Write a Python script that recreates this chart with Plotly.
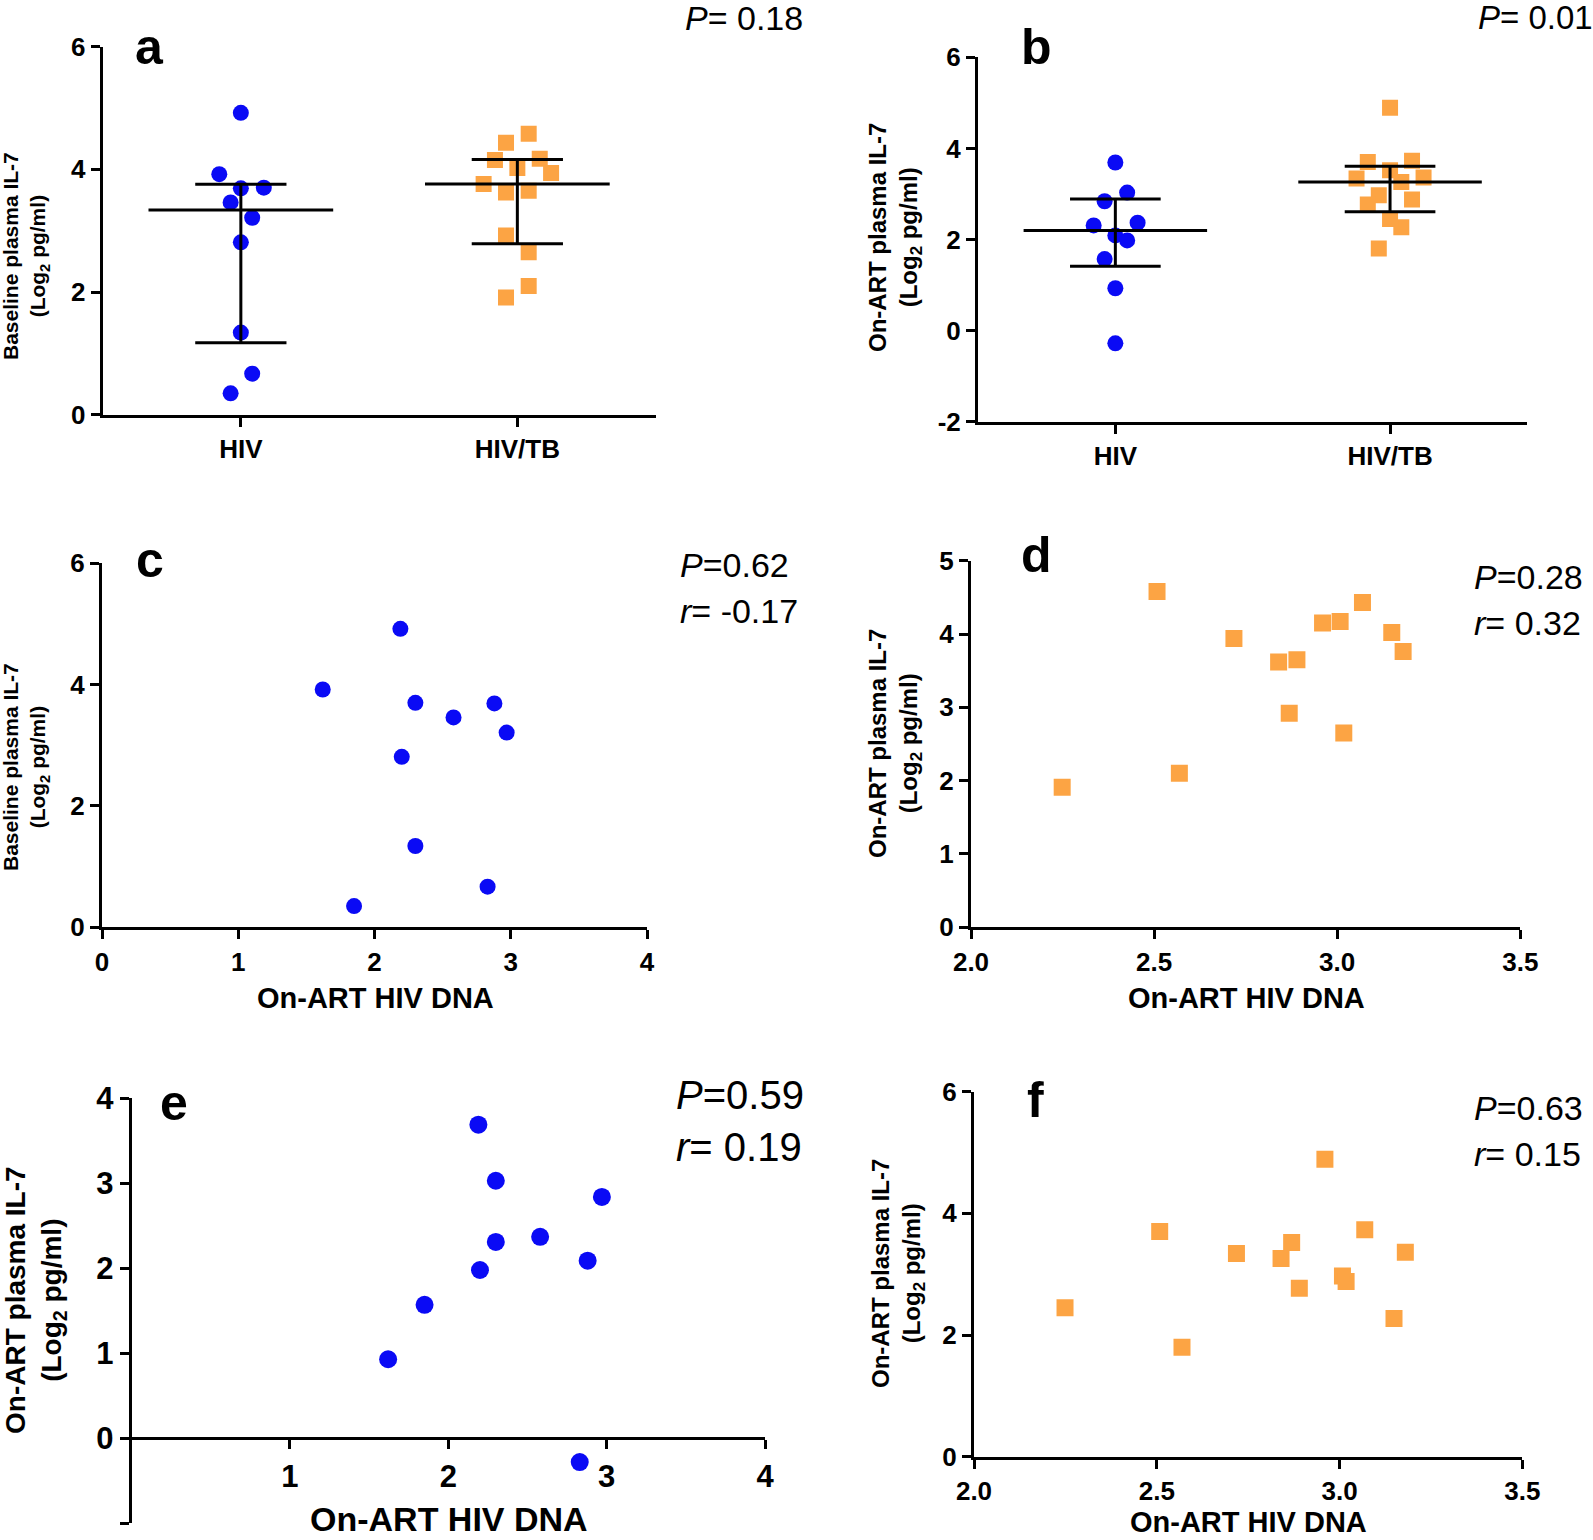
import numpy as np
import plotly.graph_objects as go

W, H = 1593, 1540
FONT = "Liberation Sans, Arial, sans-serif"
BLUE = "#0a0af5"
ORANGE = "#fca444"

# HIV group (one entry per subject)
hiv_dna = [2.19, 1.62, 2.30, 2.88, 2.58, 2.97, 2.20, 2.30, 2.83, 1.85]
hiv_base_il7 = [4.92, 3.92, 3.70, 3.69, 3.46, 3.21, 2.81, 1.34, 0.67, 0.35]
hiv_art_il7 = [3.69, 0.93, 3.03, 2.09, 2.37, 2.84, 1.98, 2.31, -0.28, 1.57]

# HIV/TB group (one entry per subject)
tb_dna = [2.508, 2.718, 2.960, 3.008, 3.069, 3.149, 3.180, 2.840, 2.890, 2.869, 3.018, 2.569, 2.249]
tb_base_il7 = [4.58, 3.94, 4.15, 4.17, 4.43, 4.02, 3.76, 3.62, 3.65, 2.92, 2.65, 2.10, 1.91]
tb_art_il7 = [3.70, 3.34, 4.89, 2.97, 3.73, 2.27, 3.36, 3.26, 2.77, 3.52, 2.88, 1.80, 2.45]

groups = ["HIV", "HIV/TB"]

# horizontal scatter of the dot plots (category units)
hiv_spread_a = [0, -0.078, 0.083, 0, -0.037, 0.041, 0, 0, 0.041, -0.037]
tb_spread_a = [0.041, 0.122, -0.081, 0.081, -0.041, 0, -0.122, -0.041, 0.041, -0.041, 0.041, 0.041, -0.041]
hiv_spread_b = [0, 0, 0.043, 0, 0.081, -0.039, 0.043, -0.079, 0, -0.039]
tb_spread_b = [-0.081, -0.122, 0, -0.041, 0.08, 0.041, 0.122, 0.041, -0.081, 0, 0.08, -0.041, 0]

stats_text = {
    "a": ["<i>P</i>= 0.18"],
    "b": ["<i>P</i>= 0.01"],
    "c": ["<i>P</i>=0.62", "<i>r</i>= -0.17"],
    "d": ["<i>P</i>=0.28", "<i>r</i>= 0.32"],
    "e": ["<i>P</i>=0.59", "<i>r</i>= 0.19"],
    "f": ["<i>P</i>=0.63", "<i>r</i>= 0.15"],
}


def px(x):
    return x / W


def py(y):
    return 1 - y / H


# panel boxes in pixels: (left, right, top, bottom)
boxes = {
    "a": (102.6, 655.6, 46.5, 414.8),
    "b": (978, 1527.4, 57.3, 421.7),
    "c": (102, 647, 563.3, 927.3),
    "d": (971, 1520.3, 560.7, 927.3),
    "e": (131.6, 765, 1098.3, 1523.3),
    "f": (974, 1522.3, 1091.7, 1456.7),
}
order = ["a", "b", "c", "d", "e", "f"]

fig = go.Figure()
layout = dict(
    width=W, height=H, margin=dict(l=0, r=0, t=0, b=0, autoexpand=False),
    paper_bgcolor="white", plot_bgcolor="white", showlegend=False,
    font=dict(family=FONT, color="black"),
)

axis_common = dict(
    showline=True, linecolor="black", linewidth=3, showgrid=False, zeroline=False,
    ticks="outside", ticklen=9, tickwidth=3, tickcolor="black", automargin=False,
)


def labels(vals):
    return [str(v) for v in vals]


axis_specs = {
    "a": dict(xr=[-0.5, 1.5], xt=[0, 1], xl=groups, yr=[0, 6], yt=[0, 2, 4, 6]),
    "b": dict(xr=[-0.5, 1.5], xt=[0, 1], xl=groups, yr=[-2, 6], yt=[-2, 0, 2, 4, 6]),
    "c": dict(xr=[0, 4], xt=[0, 1, 2, 3, 4], xl=None, yr=[0, 6], yt=[0, 2, 4, 6]),
    "d": dict(xr=[2, 3.5], xt=[2, 2.5, 3, 3.5], xl=["2.0", "2.5", "3.0", "3.5"], yr=[0, 5], yt=[0, 1, 2, 3, 4, 5]),
    "e": dict(xr=[0, 4], xt=[1, 2, 3, 4], xl=None, yr=[-1, 4], yt=[-1, 0, 1, 2, 3, 4]),
    "f": dict(xr=[2, 3.5], xt=[2, 2.5, 3, 3.5], xl=["2.0", "2.5", "3.0", "3.5"], yr=[0, 6], yt=[0, 2, 4, 6]),
}

for i, k in enumerate(order, start=1):
    l, r, t, b = boxes[k]
    s = axis_specs[k]
    tsize = 31 if k == "e" else 26
    tf = dict(family=FONT, size=tsize, color="black", weight="bold")
    xa = dict(axis_common, domain=[px(l), px(r)], range=s["xr"], tickvals=s["xt"],
              ticktext=s["xl"] if s["xl"] is not None else labels(s["xt"]),
              tickfont=tf, anchor=f"y{i}")
    ya = dict(axis_common, domain=[py(b), py(t)], range=s["yr"], tickvals=s["yt"],
              ticktext=labels(s["yt"]), tickfont=tf, anchor=f"x{i}")
    if k == "e":
        # x axis crosses at y = 0
        y0 = b - (0 - s["yr"][0]) / (s["yr"][1] - s["yr"][0]) * (b - t)
        xa["anchor"] = "free"
        xa["position"] = py(y0)
    layout[f"xaxis{i}" if i > 1 else "xaxis"] = xa
    layout[f"yaxis{i}" if i > 1 else "yaxis"] = ya

fig.update_layout(**layout)


def ax(k):
    i = order.index(k) + 1
    return ("x" if i == 1 else f"x{i}"), ("y" if i == 1 else f"y{i}")


def dots(k, xs, ys, color, symbol, size):
    xa, ya = ax(k)
    fig.add_trace(go.Scatter(
        x=xs, y=ys, mode="markers", xaxis=xa, yaxis=ya,
        marker=dict(color=color, symbol=symbol, size=size, line=dict(width=0)),
    ))


def median_iqr(k, pos, vals):
    xa, ya = ax(k)
    q1, med, q3 = np.percentile(vals, [25, 50, 75], method="weibull")
    xs = [pos - 0.334, pos + 0.334, None, pos - 0.165, pos + 0.165, None,
          pos - 0.165, pos + 0.165, None, pos, pos]
    ys = [med, med, None, q1, q1, None, q3, q3, None, q1, q3]
    fig.add_trace(go.Scatter(x=xs, y=ys, mode="lines", xaxis=xa, yaxis=ya,
                             line=dict(color="black", width=3)))


# a / b: dot plots with median and IQR
for k, hv, tv, hs, ts in [("a", hiv_base_il7, tb_base_il7, hiv_spread_a, tb_spread_a),
                          ("b", hiv_art_il7, tb_art_il7, hiv_spread_b, tb_spread_b)]:
    dots(k, [0 + o for o in hs], hv, BLUE, "circle", 16)
    dots(k, [1 + o for o in ts], tv, ORANGE, "square", 16)
    median_iqr(k, 0, hv)
    median_iqr(k, 1, tv)

# c-f: correlations
dots("c", hiv_dna, hiv_base_il7, BLUE, "circle", 16)
dots("d", tb_dna, tb_base_il7, ORANGE, "square", 17)
dots("e", hiv_dna, hiv_art_il7, BLUE, "circle", 18)
dots("f", tb_dna, tb_art_il7, ORANGE, "square", 17)

ann = []


def text(x, y, s, size, bold=False, angle=0, anchor="center"):
    ann.append(dict(
        x=px(x), y=py(y), xref="paper", yref="paper", text=s, showarrow=False,
        textangle=angle, xanchor=anchor, yanchor="middle",
        font=dict(family=FONT, size=size, color="black", weight="bold" if bold else "normal"),
    ))


# panel letters
for k, (x, y) in {"a": (149, 47), "b": (1036, 47), "c": (150, 560), "d": (1036, 555),
                  "e": (174, 1103), "f": (1035, 1100)}.items():
    text(x, y, k, 50, bold=True)

# statistics
stat_pos = {"a": (683, 18, 0), "b": (1476, 18, 0), "c": (678, 565, 46), "d": (1472, 577, 46),
            "e": (674, 1095, 52), "f": (1472, 1108, 46)}
for k, (x, y, gap) in stat_pos.items():
    size = 40 if k == "e" else (33 if k == "b" else 34)
    for j, s in enumerate(stats_text[k]):
        text(x, y + j * gap, s, size, anchor="left")

# y titles
base_title = "Baseline plasma IL-7<br>(Log<sub>2</sub> pg/ml)"
art_title = "On-ART plasma IL-7<br>(Log<sub>2</sub> pg/ml)"
for x, y, s, size in [(26, 256, base_title, 21), (895, 238, art_title, 24),
                      (26, 767, base_title, 21), (895, 744, art_title, 24),
                      (35, 1300, art_title, 28), (898, 1274, art_title, 24)]:
    text(x, y, s, size, bold=True, angle=-90)

# x titles
for x, y, size in [(375, 998, 29), (1246, 998, 29), (449, 1519, 34), (1248, 1522, 29)]:
    text(x, y, "On-ART HIV DNA", size, bold=True)

fig.update_layout(annotations=ann)
# put the figure flush with the page corner
fig.write_html("out.html", config={"displayModeBar": False},
               post_script="document.body.style.margin='0';")
